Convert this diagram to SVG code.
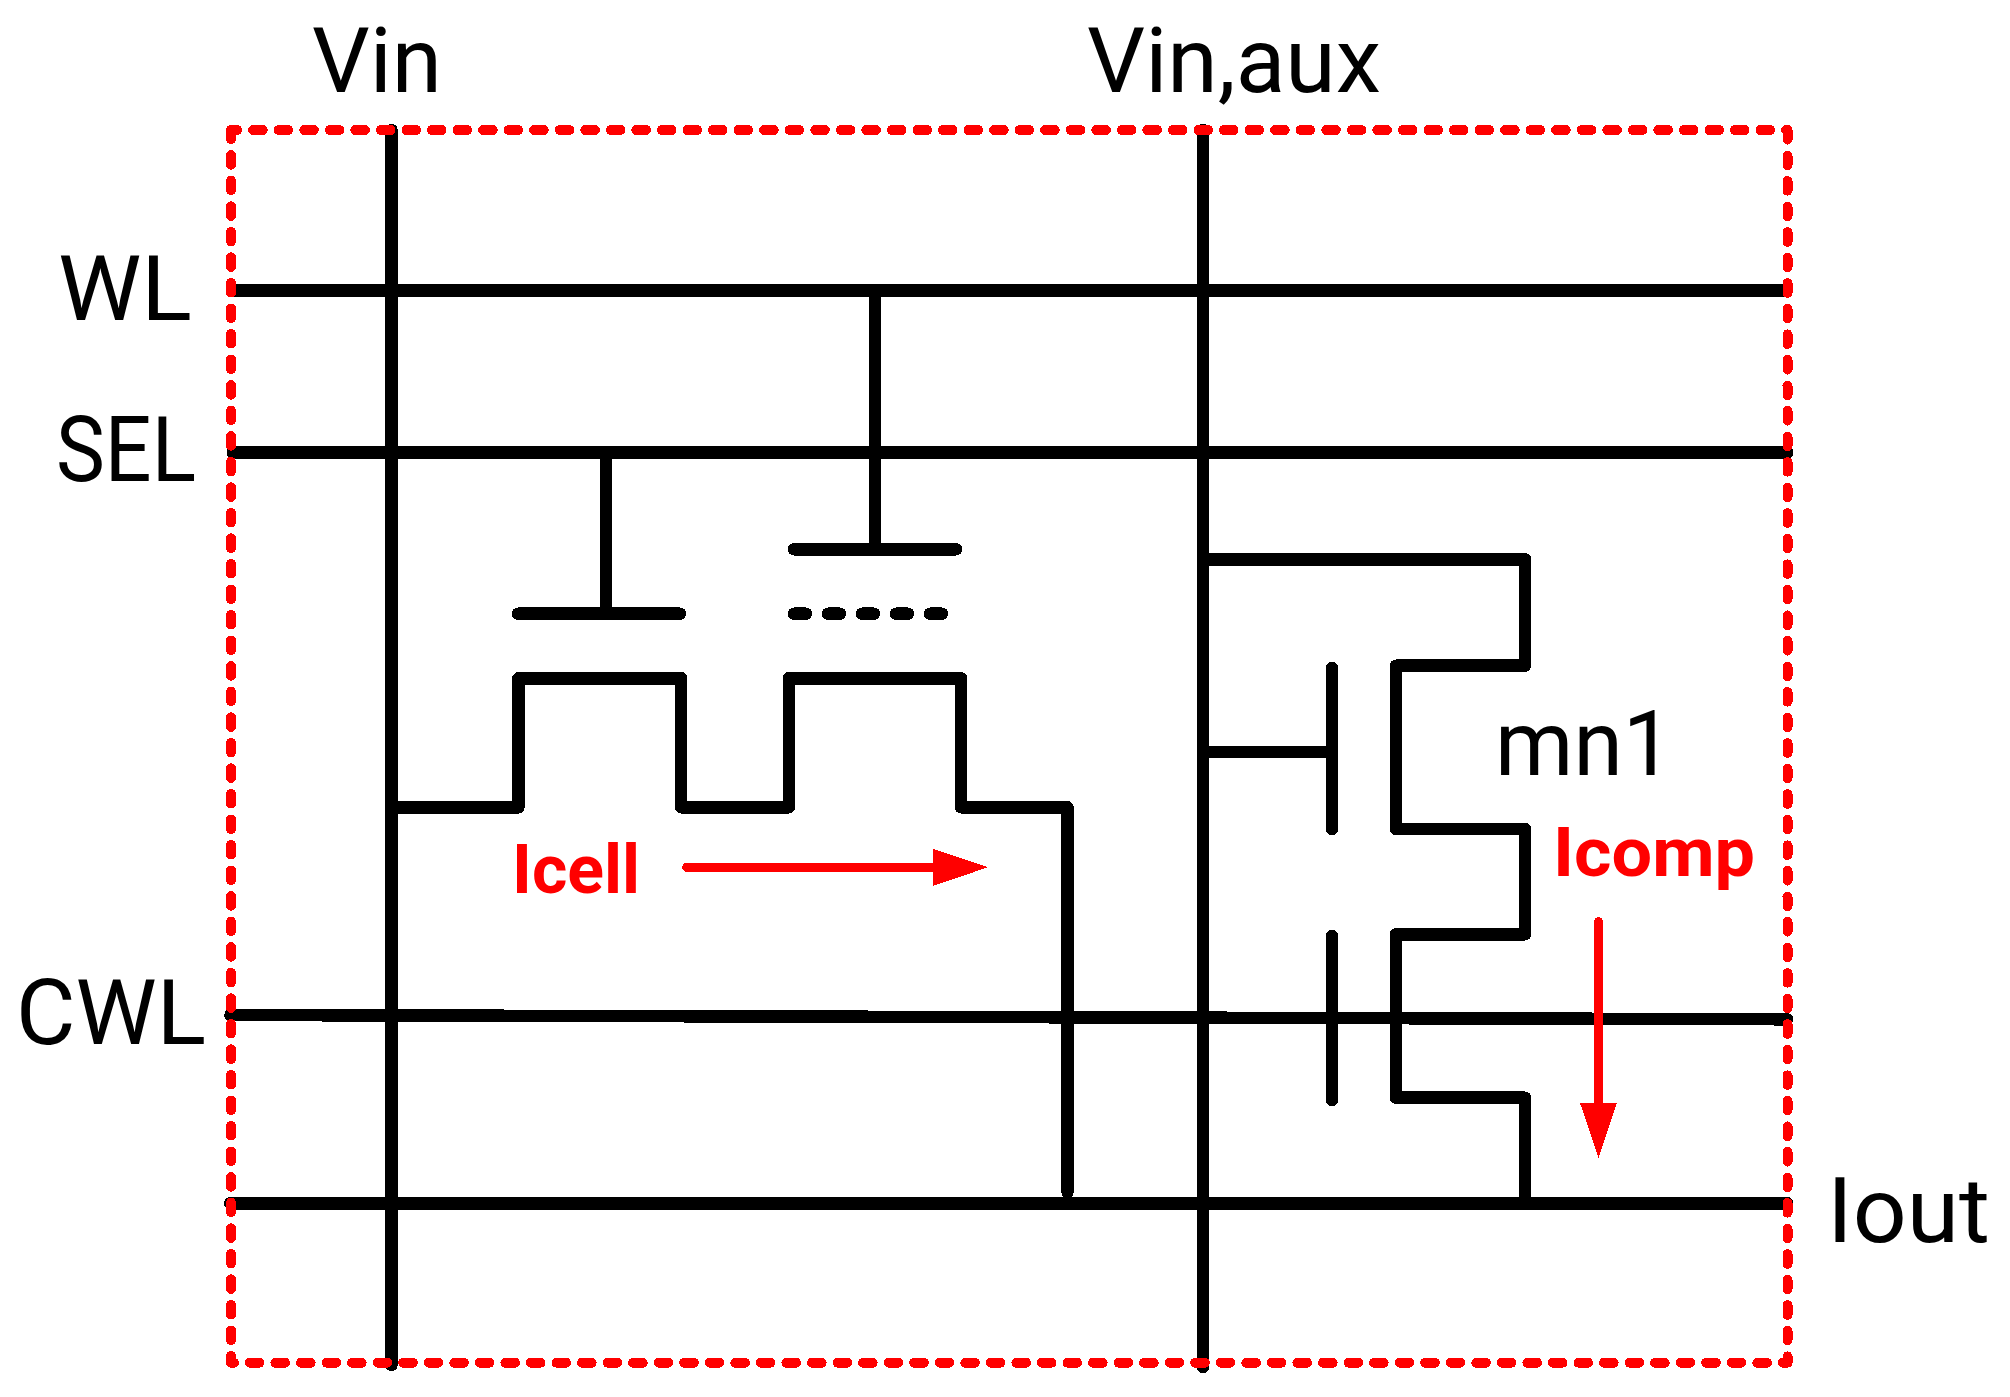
<svg xmlns="http://www.w3.org/2000/svg" width="2010" height="1397" viewBox="0 0 2010 1397" shape-rendering="crispEdges">
<style>
.w{fill:none;stroke:#000;stroke-width:12.5;stroke-linecap:round;stroke-linejoin:round}
.box{fill:none;stroke:#f00;stroke-width:10;stroke-linecap:round;stroke-dasharray:9.55 16}
.cur{fill:none;stroke:#f00;stroke-width:9.5;stroke-linecap:round;marker-end:url(#ah)}
text{font-family:"Roboto","Open Sans","Liberation Sans",sans-serif}
.t{font-size:90.5px;fill:#000;font-weight:400}
.r{font-size:68px;fill:#f00;font-weight:700}
</style>
<defs>
<marker id="ah" markerUnits="userSpaceOnUse" markerWidth="55" markerHeight="38" viewBox="0 0 55 38" refX="0" refY="19" orient="auto"><path d="M0 0.5L55 19L0 37.5Z" fill="#f00"/></marker>
</defs>
<rect width="2010" height="1397" fill="#fff"/>
<g id="connectors">
<path class="w" d="M391.5 130V1365"/>
<path class="w" d="M1203 130V1367"/>
<path class="w" d="M234 290.7H1787"/>
<path class="w" d="M233 452.3H1787" style="stroke-width:13"/>
<path class="w" d="M230.5 1015L1787 1019.3"/>
<path class="w" d="M230.5 1203.3H1787" style="stroke-width:13"/>
<path class="w" d="M875 291V549"/>
<path class="w" d="M606 452V614"/>
<path class="w" d="M391.5 807.3H518.4V678.3H681.2V807.3H788.9V678.3H961V807.3H1067.5V1192"/>
<path class="w" d="M1203 559.3H1525V665.7H1396V829H1525V934.3H1396V1097.7H1525V1203"/>
<path class="w" d="M1203 752H1332"/>
</g>
<g id="cell-transistor-1"><path class="w" d="M518 613.7H680"/></g>
<g id="cell-transistor-2">
<path class="w" d="M794 549.3H956"/>
<path class="w" d="M794 613.7H942" style="stroke-dasharray:12 22"/>
</g>
<g id="mn1-gates">
<path class="w" d="M1332 668V829"/>
<path class="w" d="M1332 936V1100"/>
</g>
<g id="boundary">
<path class="box" d="M231 130H1787.5" stroke-dashoffset="3.4"/>
<path class="box" d="M231 1362.7H1787.5" stroke-dashoffset="6.65"/>
<path class="box" d="M231 130V1362.7" stroke-dashoffset="0.4"/>
<path class="box" d="M1787.5 130V1362.7"/>
</g>
<g id="currents">
<path class="cur" d="M687 867.3H933"/>
<path class="cur" d="M1598.5 922V1103"/>
</g>
<g id="labels">
<text class="t" x="312" y="91.7" textLength="130" lengthAdjust="spacingAndGlyphs">Vin</text>
<text class="t" x="1087" y="91.7" textLength="294" lengthAdjust="spacingAndGlyphs">Vin,aux</text>
<text class="t" x="58" y="320" textLength="134" lengthAdjust="spacingAndGlyphs">WL</text>
<text class="t" x="56" y="480.7" textLength="140" lengthAdjust="spacingAndGlyphs">SEL</text>
<text class="t" x="16" y="1044" textLength="190" lengthAdjust="spacingAndGlyphs">CWL</text>
<text class="t" x="1827" y="1241.7" textLength="163" lengthAdjust="spacingAndGlyphs">Iout</text>
<text class="t" x="1495" y="775" textLength="178" lengthAdjust="spacingAndGlyphs">mn1</text>
<text class="r" x="512" y="892.7" textLength="128" lengthAdjust="spacingAndGlyphs">Icell</text>
<text class="r" x="1553" y="875.7" textLength="202" lengthAdjust="spacingAndGlyphs">Icomp</text>
</g>
</svg>
